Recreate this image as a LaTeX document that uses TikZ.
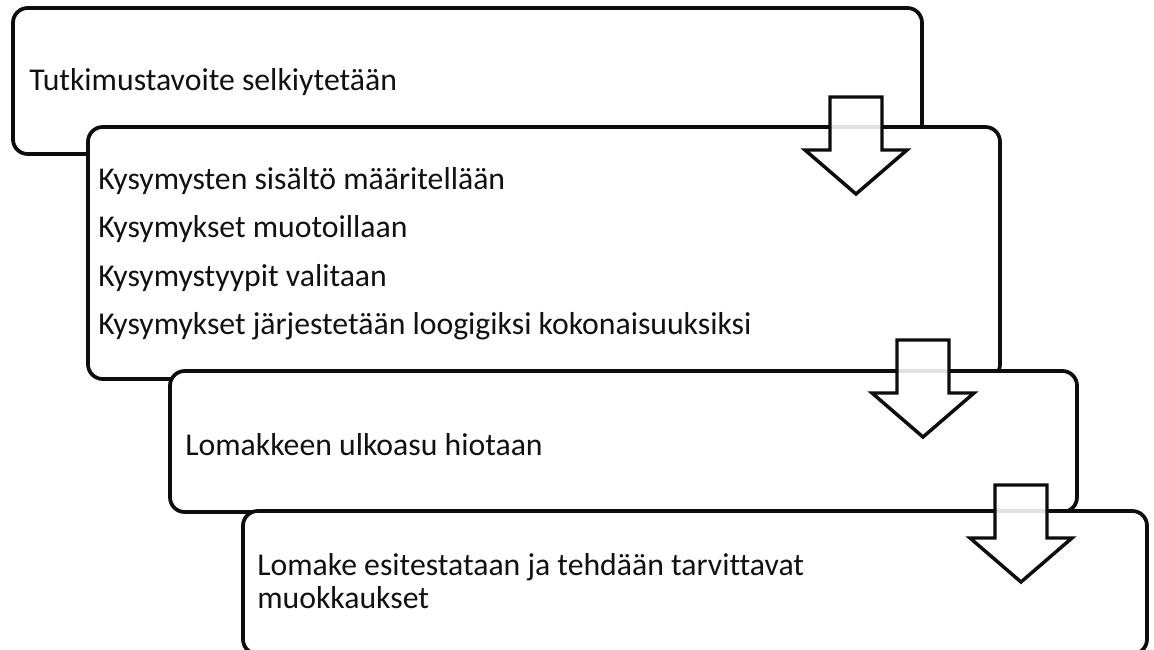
\documentclass[tikz,border=0pt]{standalone}
\usepackage{fontspec}
\setmainfont[Ligatures=NoCommon]{Carlito}
\usepackage{xcolor}
\usepackage{tikz}
\definecolor{flInk}{HTML}{111111}
\definecolor{flLine}{HTML}{0D0D0D}
\tikzset{
  fl diagram/.style={font=\fontsize{23.8pt}{25pt}\selectfont, text=flInk,
    line cap=round, line join=round},
  fl stage/.style={draw=flLine, fill=white, line width=2.8pt,
    rounded corners=11pt},
  fl text/.style={anchor=west, inner sep=0pt, align=left},
  fl arrow/.style={draw=flLine, fill=white, fill opacity=0.88,
    line width=2.6pt, line join=miter}
}

\begin{document}
\begin{tikzpicture}[fl diagram,x=0.75pt,y=-0.75pt]
\useasboundingbox (0,0) rectangle (1154,650);
% stages
\draw[fl stage] (13,8) rectangle (922,154);
\draw[fl stage] (88,127) rectangle (1000,379);
\draw[fl stage] (170,371) rectangle (1077,512);
\draw[fl stage] (243,511) rectangle (1147,654);
% texts
\node[fl text] (goal) at (29,82) {Tutkimustavoite selkiytetään};
\node[fl text] (content) at (98,181) {Kysymysten sisältö määritellään};
\node[fl text] (wording) at (98,229) {Kysymykset muotoillaan};
\node[fl text] (types) at (98,278) {Kysymystyypit valitaan};
\node[fl text] (order) at (98,326) {Kysymykset järjestetään loogigiksi kokonaisuuksiksi};
\node[fl text] (layout) at (185,445) {Lomakkeen ulkoasu hiotaan};
\node[fl text] (pretest) at (257,581)
  {Lomake esitestataan ja tehdään tarvittavat\\muokkaukset};
% block arrows
\foreach \x/\y in {830/97,897/340,995/485}
  \draw[fl arrow] (\x,\y) -- ++(52,0) -- ++(0,53) -- ++(25,0)
    -- ++(-51,44) -- ++(-51,-44) -- ++(25,0) -- cycle;
\end{tikzpicture}
\end{document}
